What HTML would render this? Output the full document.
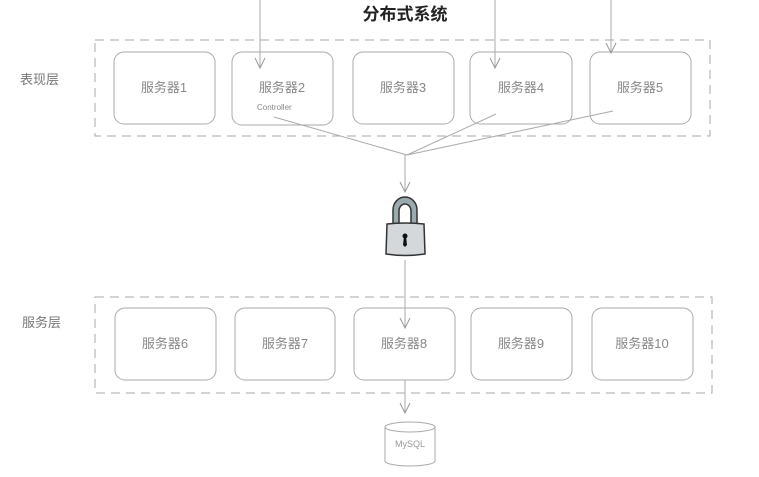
<!DOCTYPE html>
<html><head><meta charset="utf-8"><style>
html,body{margin:0;padding:0;background:#fff;width:759px;height:477px;overflow:hidden}
text{font-family:"Liberation Sans","Noto Sans CJK SC",sans-serif}
</style></head><body>
<svg width="759" height="477" xmlns="http://www.w3.org/2000/svg">
<defs>
<marker id="b" markerWidth="12" markerHeight="12" refX="11" refY="6" orient="auto" markerUnits="userSpaceOnUse">
<path d="M1,1 L11,6 L1,11" fill="none" stroke="#999" stroke-width="1"/></marker></defs>
<text x="405" y="20" font-size="17" font-weight="bold" text-anchor="middle" fill="#222">分布式系统</text>
<text x="20" y="84" font-size="13" fill="#777">表现层</text>
<text x="22" y="327" font-size="13" fill="#777">服务层</text>
<rect x="95" y="40" width="615" height="96" fill="none" stroke="#aaa" stroke-dasharray="9,6"/>
<rect x="95" y="297" width="617" height="96" fill="none" stroke="#aaa" stroke-dasharray="9,6"/>
<g fill="none" stroke="#aaa" stroke-width="1">
<rect x="114" y="52" width="101" height="72" rx="10"/>
<rect x="232" y="52" width="101" height="73" rx="10"/>
<rect x="353" y="52" width="101" height="72" rx="10"/>
<rect x="470" y="52" width="102" height="72" rx="10"/>
<rect x="590" y="52" width="101" height="72" rx="10"/>
<rect x="115" y="308" width="101" height="72" rx="10"/>
<rect x="235" y="308" width="100" height="72" rx="10"/>
<rect x="354" y="308" width="101" height="72" rx="10"/>
<rect x="471" y="308" width="101" height="72" rx="10"/>
<rect x="592" y="308" width="101" height="72" rx="10"/>
</g>
<g font-size="13" fill="#888" text-anchor="middle">
<text x="164" y="92">服务器1</text><text x="282" y="92">服务器2</text>
<text x="403" y="92">服务器3</text><text x="521" y="92">服务器4</text>
<text x="640" y="92">服务器5</text>
<text x="165" y="348">服务器6</text><text x="285" y="348">服务器7</text>
<text x="404" y="348">服务器8</text><text x="521" y="348">服务器9</text>
<text x="642" y="348">服务器10</text>
</g>
<text x="257" y="110" font-size="8" fill="#888">Controller</text>
<g stroke="#aaa" stroke-width="1" fill="none">
<line x1="260" y1="0" x2="260" y2="68" marker-end="url(#b)"/>
<line x1="495" y1="0" x2="495" y2="68" marker-end="url(#b)"/>
<line x1="611" y1="0" x2="611" y2="53" marker-end="url(#b)"/>
<line x1="274" y1="117" x2="407" y2="155"/>
<line x1="496" y1="114" x2="407" y2="155"/>
<line x1="613" y1="111" x2="407" y2="155"/>
<line x1="405" y1="155" x2="405" y2="192" marker-end="url(#b)"/>
<line x1="405" y1="260" x2="405" y2="328" marker-end="url(#b)"/>
<line x1="405" y1="380" x2="405" y2="413" marker-end="url(#b)"/>
</g>
<g stroke="#333" stroke-width="1.5">
<path d="M393,226 L393,210 A12,13 0 0 1 417,210 L417,226 L411,226 L411,211 A6,7 0 0 0 399,211 L399,226 Z" fill="#9aabb0"/>
<path d="M387,224 Q405,222 424,224 L425,254 Q405,257 386,254 Z" fill="#d4d8da"/>
</g>
<circle cx="405" cy="236" r="2.5" fill="#111"/>
<path d="M404,236 L403,245 L405,247 L407,245 L406,236 Z" fill="#111"/>
<g stroke="#aaa" fill="#fff">
<path d="M385,427 L385,461 A25,5 0 0 0 435,461 L435,427"/>
<ellipse cx="410" cy="427" rx="25" ry="5"/>
</g>
<text x="410" y="447" font-size="9" fill="#999" text-anchor="middle">MySQL</text>
</svg>
</body></html>
